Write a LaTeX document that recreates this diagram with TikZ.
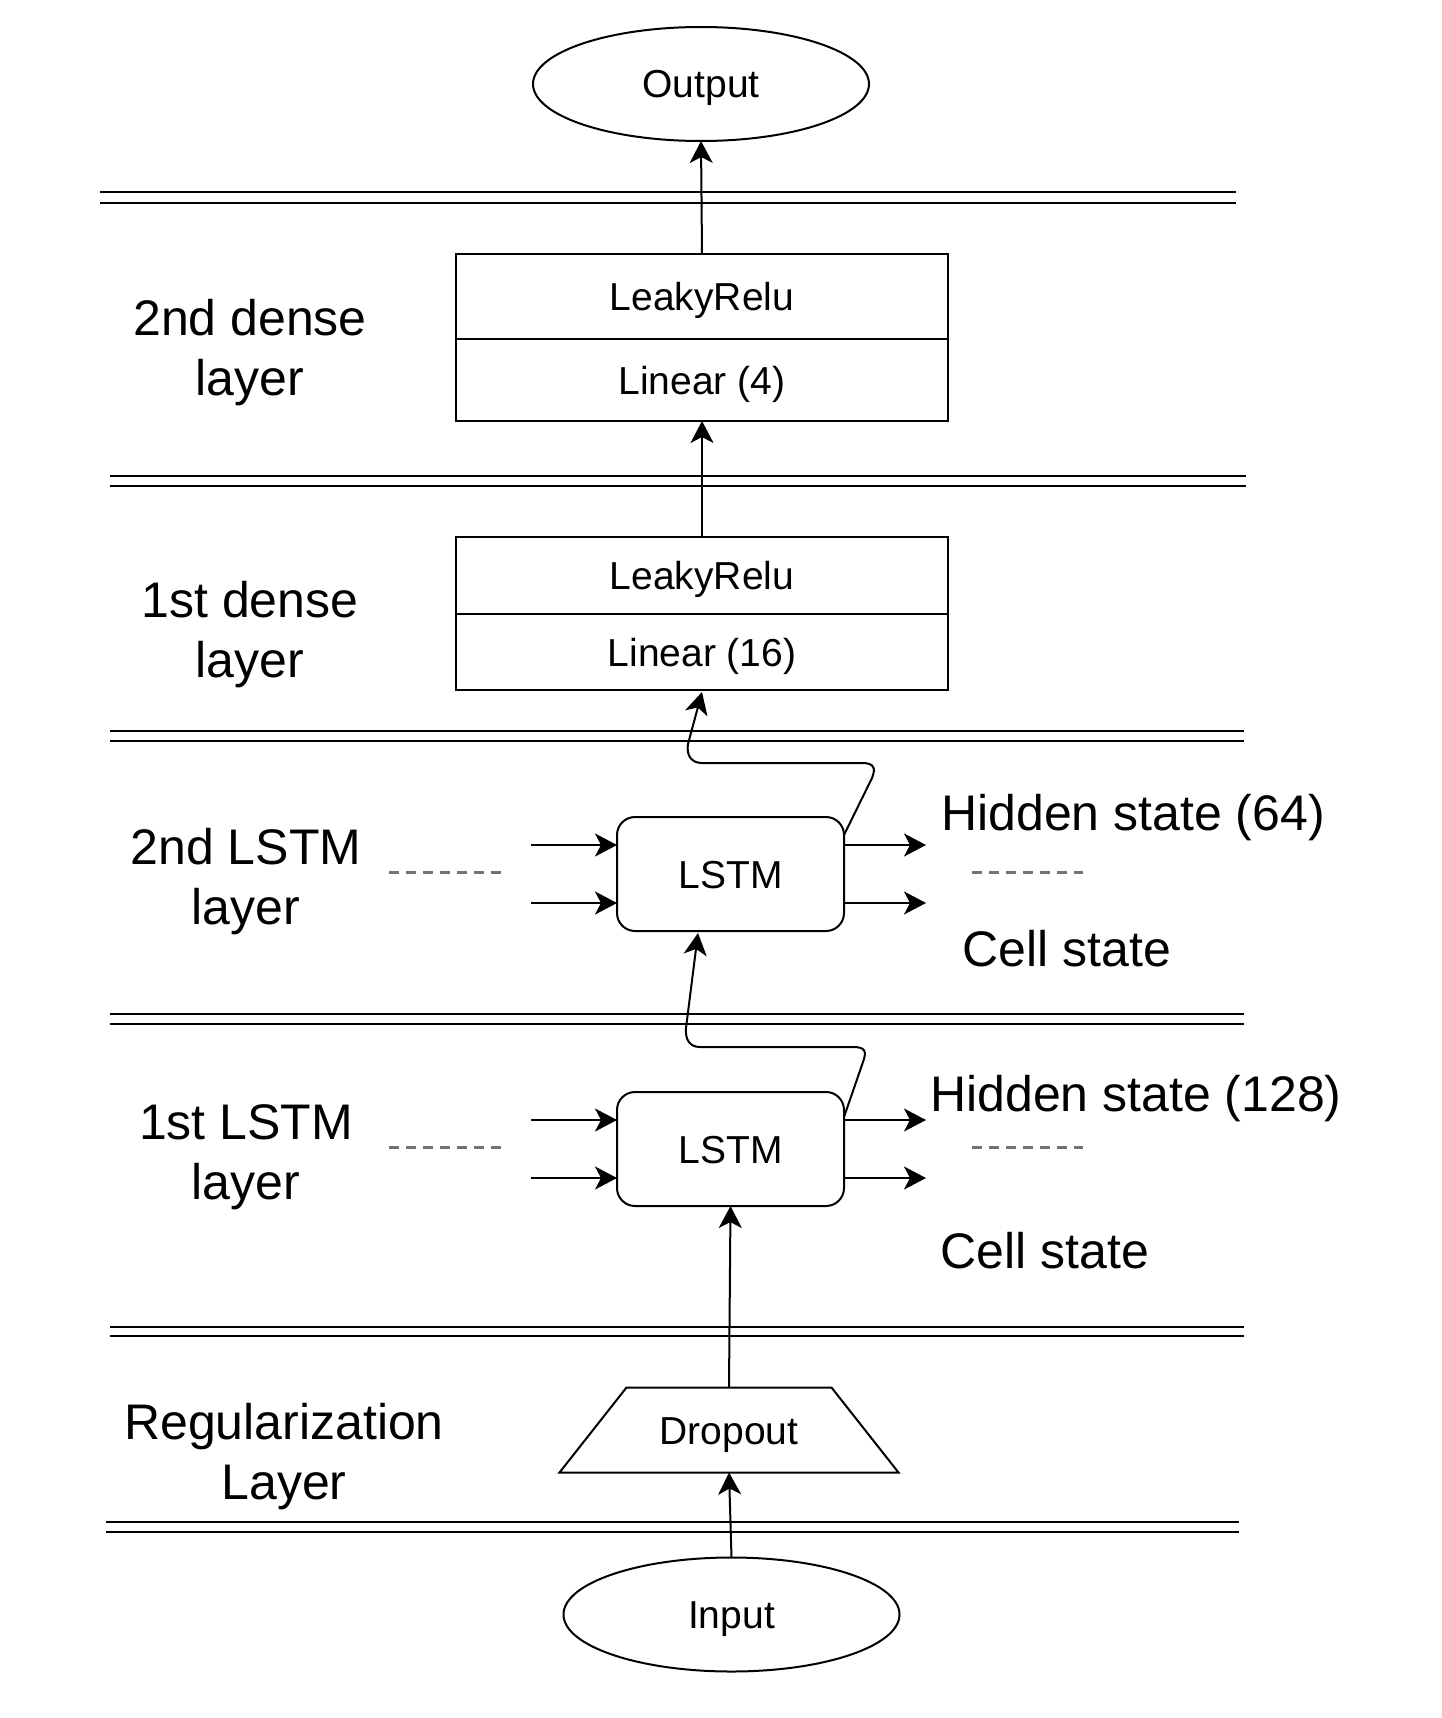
\documentclass[tikz,border=0pt]{standalone}
\usepackage{fontspec}
\setmainfont{Liberation Sans}
\usetikzlibrary{arrows.meta,shapes.geometric}
\begin{document}
\begin{tikzpicture}[x=1pt,y=-1pt,
  every node/.style={inner sep=0pt,outer sep=0pt},
  arr/.style={-{Stealth[length=22pt,width=23pt,inset=6pt]},line width=2pt},
  sep/.style={line width=2.6pt},
  boxtxt/.style={font=\fontsize{39}{47}\selectfont,text height=28pt,text depth=0pt},
  box/.style={draw,line width=2pt,minimum width=492pt,boxtxt},
  lstmbox/.style={draw,line width=2pt,rounded corners=18pt,minimum width=227pt,minimum height=114pt,boxtxt},
  oval/.style={draw,ellipse,line width=2pt,minimum width=336pt,minimum height=114pt,boxtxt},
  lbl/.style={align=center,font=\fontsize{50}{60}\selectfont,yshift=-5pt},
  dots/.style={line width=3pt,gray!90!black,dash pattern=on 10pt off 7pt},
]
\useasboundingbox (0,0) rectangle (1442,1718);

% separators
\foreach \ya/\yb/\xa/\xb in {192/203/100/1236, 476/486/110/1246, 731/741/110/1244, 1014/1024/110/1244, 1327/1336/110/1244, 1522/1532/106/1239}{
  \draw[sep] (\xa,\ya) -- (\xb,\ya);
  \draw[sep] (\xa,\yb) -- (\xb,\yb);
}

% nodes
\node[oval] (out) at (701,84) {Output};
\node[box,minimum height=85pt] (d2a) at (702,296.5) {LeakyRelu};
\node[box,minimum height=82pt] (d2b) at (702,380) {Linear (4)};
\node[box,minimum height=77pt] (d1a) at (702,575.5) {LeakyRelu};
\node[box,minimum height=76pt] (d1b) at (702,652) {Linear (16)};
\node[lstmbox] (l2) at (730.5,874) {LSTM};
\node[lstmbox] (l1) at (730.5,1149) {LSTM};
\node[boxtxt,minimum width=205pt,minimum height=85pt] (drop) at (729,1430) {Dropout};
\draw[line width=2pt] (drop.north west) -- (drop.north east) -- ([xshift=67pt]drop.south east) -- ([xshift=-67pt]drop.south west) -- cycle;
\node[oval] (in) at (731.5,1614.5) {Input};

% labels
\node[lbl] (t1) at (250,348) {2nd dense\\layer};
\node[lbl] (t2) at (250,630) {1st dense\\layer};
\node[lbl] (t3) at (246,877) {2nd LSTM\\layer};
\node[lbl] (t4) at (246,1152) {1st LSTM\\layer};
\node[lbl] (t5) at (284,1452) {Regularization\\Layer};
\node[lbl] (h2) at (1133,813) {Hidden state (64)};
\node[lbl] (c2) at (1067,944) {Cell state};
\node[lbl] (h1) at (1136,1094) {Hidden state (128)};
\node[lbl] (c1) at (1045,1246) {Cell state};

% main vertical arrows
\draw[arr] (d2a.north) -- (out.south);
\draw[arr] (d1a.north) -- (d2b.south);
\draw[arr] (drop.north) -- (l1.south);
\draw[arr] (in.north) -- (drop.south);

% LSTM side arrows
\foreach \n/\ya/\yb in {l2/845/903, l1/1120/1178}{
  \coordinate (\n i1) at (531,\ya);
  \coordinate (\n i2) at (531,\yb);
  \coordinate (\n o1) at (926,\ya);
  \coordinate (\n o2) at (926,\yb);
  \draw[arr] (\n i1) -- (\n.west |- \n i1);
  \draw[arr] (\n i2) -- (\n.west |- \n i2);
  \draw[arr] (\n.east |- \n o1) -- (\n o1);
  \draw[arr] (\n.east |- \n o2) -- (\n o2);
}

% dotted lines
\draw[dots] (389,872) -- (502,872);
\draw[dots] (972,872) -- (1083,872);
\draw[dots] (389,1147) -- (502,1147);
\draw[dots] (972,1147) -- (1083,1147);

% hidden state connectors
\coordinate (e2) at (702,692);
\coordinate (e1) at (698,933);
\draw[arr] ([yshift=-18pt]l2.north east) -- (872,778)
  .. controls (876,768) and (874,763) .. (862,763) -- (702,763)
  .. controls (692,763) and (686,756) .. (688,744) -- (e2);
\draw[arr] ([yshift=-25pt]l1.north east) -- (863,1062)
  .. controls (867,1051) and (865,1047) .. (853,1047) -- (700,1047)
  .. controls (690,1047) and (685,1040) .. (686,1028) -- (e1);
\end{tikzpicture}
\end{document}
